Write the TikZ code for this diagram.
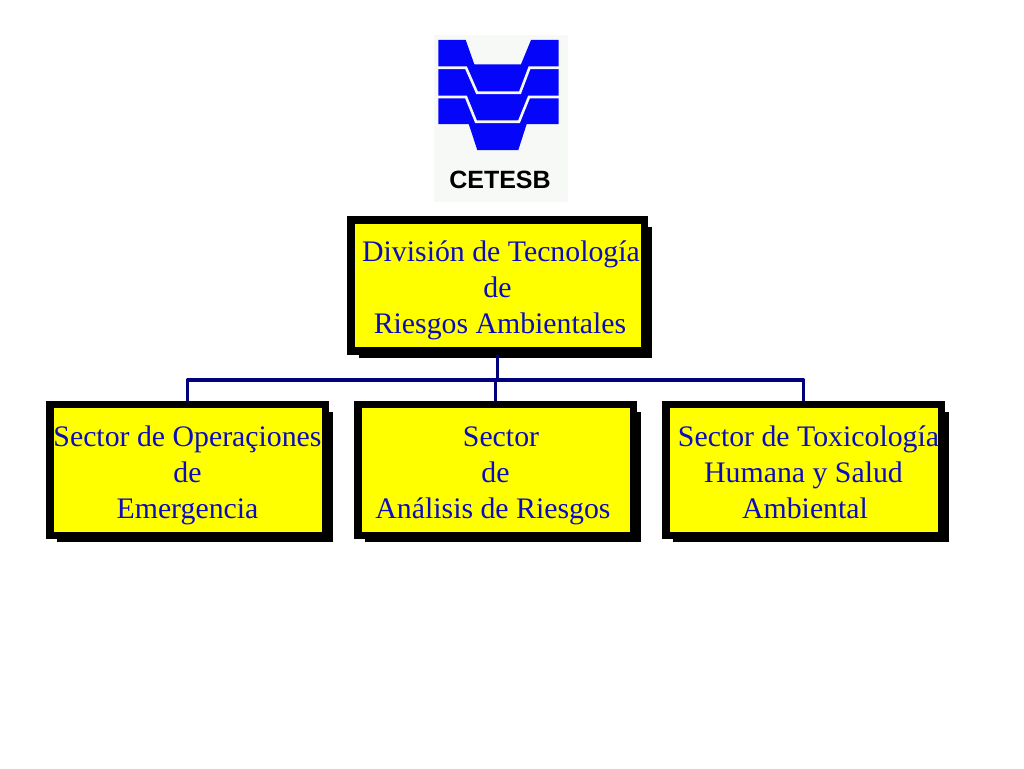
\documentclass[tikz,border=0pt]{standalone}
\usepackage{fontspec}
\setmainfont{Liberation Serif}
\newfontfamily\logofont{Liberation Sans}
\definecolor{txtblue}{RGB}{12,12,190}
\definecolor{linknavy}{RGB}{0,0,125}
\definecolor{logoblue}{RGB}{5,5,250}
\definecolor{logobg}{RGB}{246,249,246}
\definecolor{boxyellow}{RGB}{255,255,0}
\newcommand{\firstline}{\rule{0pt}{32pt}}
\newcommand{\lastline}{\rule[-8pt]{0pt}{8pt}}
\tikzset{
  x=1pt,y=-1pt,
  boxnode/.style={draw=black,fill=boxyellow,line width=7.5pt,inner sep=0pt,text=txtblue,align=center,
    font=\fontsize{29.8}{36}\selectfont,minimum height=131pt,minimum width=275.5pt},
  topbox/.style={boxnode,minimum width=293.5pt},
  shadownode/.style={fill=black,inner sep=0pt,minimum height=130pt,minimum width=276pt},
  link/.style={draw=linknavy,line width=3.2pt,line join=round},
  logowhite/.style={draw=logobg,line width=2.6pt}
}
\begin{document}
\begin{tikzpicture}
\useasboundingbox (0,0) rectangle (1024,768);
% logo
\fill[logobg] (434,35) rectangle (568,202);
\fill[logoblue] (438.3,40) -- (465.7,40) -- (474.3,64.3) -- (521,64.3) -- (531,40) -- (558.7,40)
  -- (558.7,124) -- (526.7,124) -- (518.3,150) -- (477.3,150) -- (468.7,124) -- (438.3,124) -- cycle;
\draw[logowhite] (438,67.7) -- (466,67.7) -- (477,92.7) -- (520,92.7) -- (529.5,67.7) -- (559,67.7);
\draw[logowhite] (438,97) -- (466,97) -- (476,121.7) -- (519,121.7) -- (529,97) -- (559,97);
\node[font=\logofont\bfseries\fontsize{25}{25}\selectfont,inner sep=0pt] (logo) at (500,180) {CETESB};
% shadows
\node[shadownode,minimum width=293pt,minimum height=131pt] (shadowtop) at (505.5,292.5) {};
\node[shadownode] (shadowleft) at (195,477) {};
\node[shadownode] (shadowmid) at (503,477) {};
\node[shadownode] (shadowright) at (811,477) {};
% boxes
\node[topbox] (top) at (497.5,285.5) {\firstline\hspace*{7pt}División de Tecnología\\de\\\hspace*{5pt}Riesgos Ambientales\lastline};
\node[boxnode] (left) at (187.5,470) {\firstline Sector de Operaçiones\\de\\Emergencia\lastline};
\node[boxnode] (mid) at (495.5,470) {\firstline\hspace*{11pt}Sector\\de\\\hspace*{-5pt}Análisis de Riesgos\lastline};
\node[boxnode] (right) at (803.5,470) {\firstline\hspace*{10pt}Sector de Toxicología\\Humana y Salud\\\hspace*{3pt}Ambiental\lastline};
% connectors
\coordinate (bus) at (497.5,380);
\draw[link] (top.south) -- (bus);
\draw[link] (left.north) |- (bus);
\draw[link] (right.north) |- (bus);
\draw[link] (mid.north) -- (mid.north |- bus);
\end{tikzpicture}
\end{document}
